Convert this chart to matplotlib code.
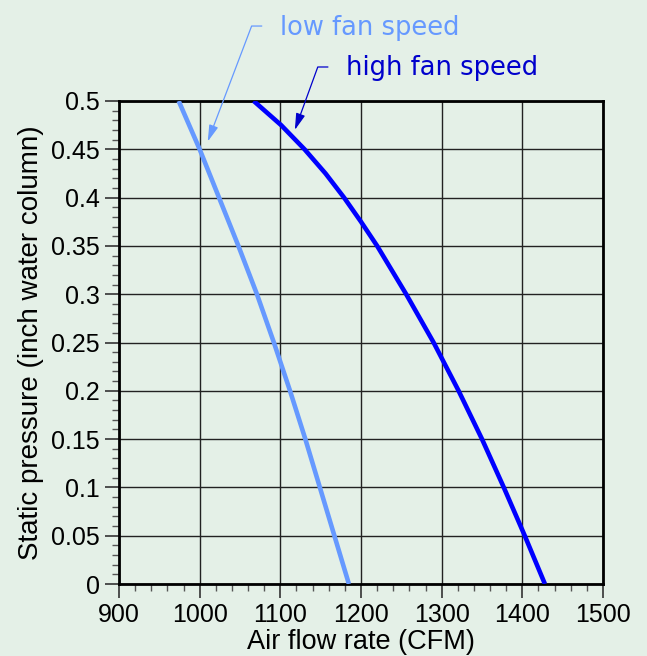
import numpy as np
import matplotlib.pyplot as plt
from matplotlib.ticker import MultipleLocator

plt.rcParams['font.family'] = ['Liberation Sans', 'DejaVu Sans']

# static pressure points (inch water column)
pressure = [0.5, 0.475, 0.45, 0.425, 0.4, 0.375, 0.35, 0.3, 0.25, 0.2, 0.15, 0.1, 0.05, 0.0]
# air flow (CFM)
low_flow = [974, 987, 1000, 1012, 1024, 1036, 1048, 1071, 1092, 1112, 1131, 1149, 1167, 1185]
high_flow = [1067, 1101, 1130, 1156, 1179, 1200, 1220, 1256, 1290, 1321, 1350, 1377, 1403, 1428]

x_ticks = [900, 1000, 1100, 1200, 1300, 1400, 1500]
y_ticks = [0, 0.05, 0.1, 0.15, 0.2, 0.25, 0.3, 0.35, 0.4, 0.45, 0.5]
y_labels = ['0', '0.05', '0.1', '0.15', '0.2', '0.25', '0.3', '0.35', '0.4', '0.45', '0.5']

bg = '#e4f0e7'
low_col = '#6699ff'
high_col = '#0000ff'
high_txt = '#0000cc'

fig = plt.figure(figsize=(6.47, 6.56), dpi=100, facecolor=bg)
ax = fig.add_axes([119 / 647, 1 - 584 / 656, 484 / 647, 483 / 656])
ax.set_facecolor(bg)

ax.plot(low_flow, pressure, color=low_col, lw=3.3, solid_capstyle='butt', solid_joinstyle='round', zorder=3)
ax.plot(high_flow, pressure, color=high_col, lw=3.3, solid_capstyle='butt', solid_joinstyle='round', zorder=3)

ax.set_xlim(900, 1500)
ax.set_ylim(0, 0.5)
ax.set_xticks(x_ticks)
ax.set_yticks(y_ticks)
ax.set_yticklabels(y_labels)
ax.xaxis.set_minor_locator(MultipleLocator(20))
ax.yaxis.set_minor_locator(MultipleLocator(0.01))
ax.grid(True, which='major', color='#222222', lw=1.0)
ax.tick_params(which='major', length=10, width=1.2, labelsize=18, pad=4, color='#333333')
ax.tick_params(which='minor', length=5, width=1.0, color='#555555')
for s in ax.spines.values():
    s.set_linewidth(2)
    s.set_color('black')

ax.set_xlabel('Air flow rate (CFM)', fontsize=19.5, labelpad=1)
ax.set_ylabel('Static pressure (inch water column)', fontsize=20, labelpad=5)

# callouts: label text, then a short hook and a straight arrow to the curve
ax.text(1099, 0.568, 'low fan speed', color=low_col, fontsize=18.5,
        family='DejaVu Sans', ha='left', va='baseline', clip_on=False)
ax.text(1182, 0.527, 'high fan speed', color=high_txt, fontsize=18.5,
        family='DejaVu Sans', ha='left', va='baseline', clip_on=False)

head = '-|>,head_length=0.5,head_width=0.14'
ax.annotate('', xy=(1010, 0.458), xytext=(1077, 0.5776), annotation_clip=False,
            arrowprops=dict(arrowstyle=head, color=low_col, lw=0.9, mutation_scale=20,
                            connectionstyle='angle,angleA=0,angleB=69.2,rad=0',
                            shrinkA=0, shrinkB=0))
ax.annotate('', xy=(1118, 0.470), xytext=(1159, 0.5352), annotation_clip=False,
            arrowprops=dict(arrowstyle=head, color=high_txt, lw=0.9, mutation_scale=20,
                            connectionstyle='angle,angleA=0,angleB=70,rad=0',
                            shrinkA=0, shrinkB=0))

fig.savefig('out.png', dpi=100, facecolor=bg)
